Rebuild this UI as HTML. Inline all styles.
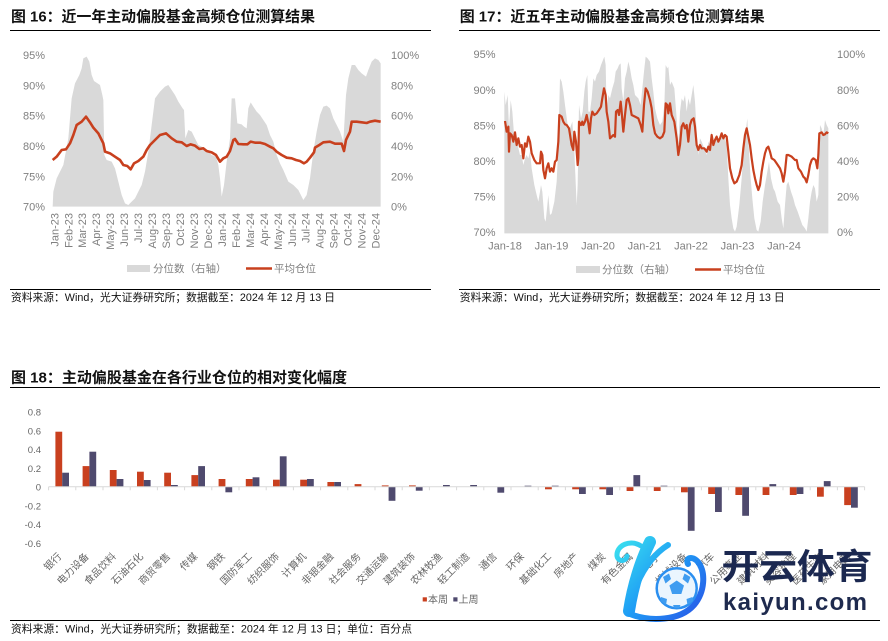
<!DOCTYPE html>
<html><head><meta charset="utf-8">
<style>
html,body{margin:0;padding:0;background:#fff;}
body{width:888px;height:641px;overflow:hidden;}
svg{display:block;font-family:"Liberation Sans","Noto Sans CJK SC",sans-serif;}
.t{font-size:15px;font-weight:bold;fill:#111;}
.src{font-size:10.8px;fill:#111;}
.ax{font-size:11px;fill:#808080;}
.lg{font-size:10.5px;fill:#808080;}
.by{font-size:9.5px;fill:#666;}
.bx{font-size:10px;fill:#666;}
</style></head>
<body>
<svg width="888" height="641" viewBox="0 0 888 641" xmlns="http://www.w3.org/2000/svg">
<defs>
<linearGradient id="wg" gradientUnits="userSpaceOnUse" x1="610" y1="540" x2="705" y2="622">
<stop offset="0" stop-color="#3ee8ee"/><stop offset="0.5" stop-color="#1e9cf5"/><stop offset="1" stop-color="#2a4fe6"/>
</linearGradient>
</defs>
<rect width="888" height="641" fill="#fff"/>

<!-- ============ Chart 16 ============ -->
<text class="t" x="11" y="21.5" textLength="304" lengthAdjust="spacingAndGlyphs">图 16：近一年主动偏股基金高频仓位测算结果</text>
<line x1="10" y1="30.5" x2="431" y2="30.5" stroke="#000" stroke-width="1"/>
<g transform="translate(40,45) scale(0.33333)">
<path fill="#d9d9d9" d="M38,485 L40,440 L50,400 L70,360 L85,280 L95,160 L105,115 L118,90 L125,70 L130,40 L140,35 L148,50 L155,90 L162,108 L180,120 L187,150 L190,165 L193,330 L200,345 L215,350 L225,370 L235,410 L245,450 L255,475 L265,480 L275,470 L285,460 L295,440 L305,420 L315,380 L325,320 L335,240 L345,160 L360,140 L375,125 L385,120 L395,135 L405,150 L415,170 L428,190 L432,195 L436,280 L445,255 L455,260 L465,280 L475,300 L485,305 L495,315 L505,320 L515,330 L528,335 L535,360 L540,400 L545,455 L552,420 L560,350 L570,280 L575,160 L585,160 L592,235 L605,238 L612,245 L620,250 L625,190 L632,172 L640,185 L650,200 L660,210 L670,225 L680,240 L690,270 L700,290 L710,330 L720,355 L730,375 L745,410 L760,420 L775,435 L790,465 L800,450 L810,400 L820,320 L830,260 L840,210 L850,185 L860,182 L870,190 L880,220 L890,240 L900,260 L910,290 L918,150 L925,100 L935,60 L945,60 L955,75 L965,85 L978,95 L985,75 L995,50 L1005,40 L1015,45 L1022,55 L1022,485 Z"/>
<path fill="none" stroke="#c8401e" stroke-width="2.6" vector-effect="non-scaling-stroke" stroke-linejoin="round" d="M38,345 L50,335 L65,315 L78,313 L90,295 L100,270 L110,240 L125,230 L138,215 L150,232 L160,248 L175,265 L185,285 L190,295 L195,320 L210,325 L225,335 L240,345 L250,360 L262,363 L272,373 L282,355 L295,348 L310,335 L320,315 L330,300 L345,285 L360,270 L378,265 L395,280 L410,290 L425,292 L440,303 L452,298 L465,302 L478,312 L490,310 L500,318 L515,322 L528,330 L540,350 L550,340 L560,335 L570,318 L580,285 L585,282 L595,297 L610,298 L622,298 L632,290 L645,293 L660,293 L675,297 L690,305 L700,310 L710,320 L725,330 L740,338 L755,340 L768,345 L780,348 L792,355 L800,350 L810,338 L822,322 L825,308 L838,300 L850,292 L870,290 L885,296 L905,296 L912,318 L918,285 L930,260 L935,230 L950,230 L965,232 L980,234 L990,230 L1005,227 L1022,230"/>
</g>
<g class="ax" text-anchor="end">
<text x="45" y="59">95%</text><text x="45" y="89.3">90%</text><text x="45" y="119.7">85%</text><text x="45" y="150">80%</text><text x="45" y="180.4">75%</text><text x="45" y="210.7">70%</text>
</g>
<g class="ax">
<text x="391" y="59">100%</text><text x="391" y="89.3">80%</text><text x="391" y="119.7">60%</text><text x="391" y="150">40%</text><text x="391" y="180.4">20%</text><text x="391" y="210.7">0%</text>
</g>
<g class="ax" text-anchor="end">
<text transform="translate(58.3,213) rotate(-90)">Jan-23</text>
<text transform="translate(72.3,213) rotate(-90)">Feb-23</text>
<text transform="translate(86.2,213) rotate(-90)">Mar-23</text>
<text transform="translate(100.2,213) rotate(-90)">Apr-23</text>
<text transform="translate(114.2,213) rotate(-90)">May-23</text>
<text transform="translate(128.2,213) rotate(-90)">Jun-23</text>
<text transform="translate(142.1,213) rotate(-90)">Jul-23</text>
<text transform="translate(156.1,213) rotate(-90)">Aug-23</text>
<text transform="translate(170.1,213) rotate(-90)">Sep-23</text>
<text transform="translate(184.0,213) rotate(-90)">Oct-23</text>
<text transform="translate(198.0,213) rotate(-90)">Nov-23</text>
<text transform="translate(212.0,213) rotate(-90)">Dec-23</text>
<text transform="translate(225.9,213) rotate(-90)">Jan-24</text>
<text transform="translate(239.9,213) rotate(-90)">Feb-24</text>
<text transform="translate(253.9,213) rotate(-90)">Mar-24</text>
<text transform="translate(267.8,213) rotate(-90)">Apr-24</text>
<text transform="translate(281.8,213) rotate(-90)">May-24</text>
<text transform="translate(295.8,213) rotate(-90)">Jun-24</text>
<text transform="translate(309.7,213) rotate(-90)">Jul-24</text>
<text transform="translate(323.7,213) rotate(-90)">Aug-24</text>
<text transform="translate(337.7,213) rotate(-90)">Sep-24</text>
<text transform="translate(351.6,213) rotate(-90)">Oct-24</text>
<text transform="translate(365.6,213) rotate(-90)">Nov-24</text>
<text transform="translate(379.6,213) rotate(-90)">Dec-24</text>
</g>
<rect x="127" y="265" width="23" height="7" fill="#d9d9d9"/>
<text class="lg" x="153" y="272">分位数（右轴）</text>
<line x1="246" y1="268.5" x2="272" y2="268.5" stroke="#c8401e" stroke-width="2.5"/>
<text class="lg" x="274" y="272">平均仓位</text>
<line x1="10" y1="289.5" x2="431" y2="289.5" stroke="#000" stroke-width="1"/>
<text class="src" x="11" y="301" textLength="324" lengthAdjust="spacingAndGlyphs">资料来源：Wind，光大证券研究所；数据截至：2024 年 12 月 13 日</text>

<!-- ============ Chart 17 ============ -->
<text class="t" x="459.7" y="21.5" textLength="305" lengthAdjust="spacingAndGlyphs">图 17：近五年主动偏股基金高频仓位测算结果</text>
<line x1="459" y1="30.5" x2="880" y2="30.5" stroke="#000" stroke-width="1"/>
<g transform="translate(495,45) scale(0.33333)">
<path fill="#d9d9d9" d="M28,565 L28,140 L32,180 L38,150 L42,250 L47,165 L52,200 L58,280 L62,270 L68,300 L75,330 L80,330 L85,360 L90,340 L95,330 L100,340 L105,320 L110,370 L118,420 L125,450 L130,470 L135,440 L138,420 L142,440 L148,520 L152,530 L156,490 L160,450 L165,510 L170,505 L178,470 L185,410 L190,300 L195,100 L200,110 L205,140 L210,180 L218,240 L225,250 L232,230 L238,320 L245,480 L248,420 L252,180 L258,220 L263,200 L268,140 L272,110 L277,90 L280,200 L285,200 L290,160 L295,100 L300,110 L305,90 L312,80 L318,60 L322,50 L328,35 L332,60 L335,200 L340,150 L345,160 L352,130 L358,110 L362,80 L368,70 L372,60 L377,55 L380,130 L385,170 L390,100 L395,80 L400,50 L405,70 L410,100 L415,120 L420,150 L430,160 L437,180 L442,130 L447,80 L452,35 L458,40 L465,50 L470,100 L475,140 L480,190 L487,220 L495,240 L502,230 L508,180 L512,60 L517,70 L520,65 L525,120 L530,110 L538,130 L545,220 L550,300 L555,200 L560,160 L565,170 L570,150 L575,200 L580,160 L585,180 L590,150 L595,120 L600,170 L605,260 L610,330 L615,280 L620,290 L628,310 L635,330 L640,290 L645,300 L650,260 L655,300 L660,280 L665,270 L670,280 L675,280 L680,270 L685,280 L690,280 L695,300 L700,400 L705,480 L710,520 L715,550 L720,560 L725,545 L733,480 L740,400 L745,330 L752,260 L757,220 L762,320 L767,400 L772,460 L778,520 L785,555 L790,560 L797,530 L803,470 L810,420 L817,380 L822,350 L828,400 L835,430 L840,440 L848,470 L855,480 L860,520 L865,550 L870,480 L875,420 L880,410 L888,440 L895,460 L900,480 L908,500 L915,520 L922,540 L930,550 L935,560 L940,520 L945,470 L950,440 L955,420 L960,430 L965,470 L970,450 L975,240 L980,250 L985,270 L990,225 L995,240 L1000,250 L1000,565 Z"/>
<path fill="none" stroke="#c8401e" stroke-width="2.2" vector-effect="non-scaling-stroke" stroke-linejoin="round" d="M30,228 L35,260 L40,245 L42,320 L45,265 L50,270 L55,290 L60,262 L65,300 L70,280 L75,305 L80,300 L85,340 L90,295 L95,305 L100,275 L105,290 L110,325 L118,345 L125,355 L135,355 L138,320 L142,330 L145,375 L150,400 L155,370 L160,355 L165,380 L170,370 L175,380 L180,350 L185,345 L190,290 L193,210 L200,215 L205,230 L210,238 L215,240 L222,250 L230,300 L235,315 L238,260 L243,290 L248,360 L250,340 L252,230 L258,240 L262,230 L265,240 L270,230 L275,210 L280,235 L284,265 L288,220 L292,200 L298,210 L305,205 L312,195 L318,185 L322,160 L327,130 L332,150 L335,200 L340,230 L345,280 L350,275 L355,270 L360,275 L363,200 L368,195 L372,210 L377,170 L380,200 L385,260 L390,210 L395,165 L400,160 L405,180 L410,210 L420,215 L430,220 L437,240 L442,260 L447,180 L452,130 L458,140 L465,165 L470,190 L475,240 L480,265 L487,275 L495,280 L502,275 L508,260 L512,175 L517,180 L520,205 L525,175 L530,210 L538,230 L545,280 L550,330 L555,300 L560,245 L565,235 L570,250 L575,240 L580,290 L585,240 L590,225 L596,220 L600,245 L605,300 L610,315 L615,300 L620,310 L628,310 L635,320 L640,305 L645,315 L650,270 L655,300 L660,285 L665,275 L670,290 L675,280 L680,265 L685,280 L690,270 L695,275 L700,320 L705,370 L712,400 L718,415 L725,410 L733,390 L740,360 L745,310 L750,270 L755,250 L760,275 L765,300 L770,340 L775,375 L780,400 L785,420 L790,435 L795,420 L800,380 L805,350 L810,325 L815,310 L820,305 L825,320 L830,340 L838,345 L845,355 L855,370 L860,385 L865,410 L870,380 L875,330 L880,330 L890,335 L900,345 L905,345 L910,370 L918,380 L925,395 L930,400 L935,412 L940,390 L945,360 L950,345 L955,340 L962,345 L967,370 L970,330 L973,265 L980,262 L985,270 L990,268 L995,262 L1000,265"/>
</g>
<g class="ax" text-anchor="end">
<text x="495.5" y="58.2">95%</text><text x="495.5" y="93.8">90%</text><text x="495.5" y="129.4">85%</text><text x="495.5" y="165">80%</text><text x="495.5" y="200.6">75%</text><text x="495.5" y="236.2">70%</text>
</g>
<g class="ax">
<text x="837" y="58.2">100%</text><text x="837" y="93.8">80%</text><text x="837" y="129.4">60%</text><text x="837" y="165">40%</text><text x="837" y="200.6">20%</text><text x="837" y="236.2">0%</text>
</g>
<g class="ax" text-anchor="middle">
<text x="505" y="249.5">Jan-18</text><text x="551.5" y="249.5">Jan-19</text><text x="598" y="249.5">Jan-20</text><text x="644.5" y="249.5">Jan-21</text><text x="691" y="249.5">Jan-22</text><text x="737.5" y="249.5">Jan-23</text><text x="784" y="249.5">Jan-24</text>
</g>
<rect x="576" y="266" width="24" height="7" fill="#d9d9d9"/>
<text class="lg" x="602" y="273">分位数（右轴）</text>
<line x1="695" y1="269.5" x2="721" y2="269.5" stroke="#c8401e" stroke-width="2.5"/>
<text class="lg" x="723" y="273">平均仓位</text>
<line x1="459" y1="289.5" x2="880" y2="289.5" stroke="#000" stroke-width="1"/>
<text class="src" x="459.7" y="301" textLength="325" lengthAdjust="spacingAndGlyphs">资料来源：Wind，光大证券研究所；数据截至：2024 年 12 月 13 日</text>

<!-- ============ Chart 18 ============ -->
<text class="t" x="11" y="382.5" textLength="336" lengthAdjust="spacingAndGlyphs">图 18：主动偏股基金在各行业仓位的相对变化幅度</text>
<line x1="10" y1="387.5" x2="880" y2="387.5" stroke="#000" stroke-width="1"/>
<g class="by" text-anchor="end">
<text x="41" y="415.5">0.8</text><text x="41" y="434.3">0.6</text><text x="41" y="453">0.4</text><text x="41" y="471.8">0.2</text><text x="41" y="490.5">0</text><text x="41" y="509.3">-0.2</text><text x="41" y="528">-0.4</text><text x="41" y="546.8">-0.6</text>
</g>
<g fill="#c9401f">
<rect x="55.4" y="431.7" width="6.8" height="55"/>
<rect x="82.6" y="466.1" width="6.8" height="20.6"/>
<rect x="109.8" y="470" width="6.8" height="16.7"/>
<rect x="137" y="471.7" width="6.8" height="15"/>
<rect x="164.2" y="472.7" width="6.8" height="14"/>
<rect x="191.4" y="475.1" width="6.8" height="11.6"/>
<rect x="218.6" y="479" width="6.8" height="7.7"/>
<rect x="245.8" y="479" width="6.8" height="7.7"/>
<rect x="273" y="479.7" width="6.8" height="7"/>
<rect x="300.2" y="479.7" width="6.8" height="7"/>
<rect x="327.4" y="482" width="6.8" height="4.7"/>
<rect x="354.6" y="484.1" width="6.8" height="2.6"/>
<rect x="381.8" y="485.4" width="6.8" height="1.3"/>
<rect x="409" y="485.4" width="6.8" height="1.3"/>
<rect x="545" y="486.7" width="6.8" height="2.6"/>
<rect x="572.2" y="486.7" width="6.8" height="2.6"/>
<rect x="599.4" y="486.7" width="6.8" height="2.6"/>
<rect x="626.6" y="486.7" width="6.8" height="4.3"/>
<rect x="653.8" y="486.7" width="6.8" height="4.3"/>
<rect x="681" y="486.7" width="6.8" height="5.6"/>
<rect x="708.2" y="486.7" width="6.8" height="7.3"/>
<rect x="735.4" y="486.7" width="6.8" height="8.3"/>
<rect x="762.6" y="486.7" width="6.8" height="8.3"/>
<rect x="789.8" y="486.7" width="6.8" height="8.3"/>
<rect x="817" y="486.7" width="6.8" height="10"/>
<rect x="844.2" y="486.7" width="6.8" height="18.4"/>
</g>
<g fill="#4f4a6e">
<rect x="62.2" y="472.7" width="6.8" height="14"/>
<rect x="89.4" y="451.7" width="6.8" height="35"/>
<rect x="116.6" y="479" width="6.8" height="7.7"/>
<rect x="143.8" y="480" width="6.8" height="6.7"/>
<rect x="171" y="485" width="6.8" height="1.7"/>
<rect x="198.2" y="466.1" width="6.8" height="20.6"/>
<rect x="225.4" y="486.7" width="6.8" height="5.6"/>
<rect x="252.6" y="477.3" width="6.8" height="9.4"/>
<rect x="279.8" y="456.3" width="6.8" height="30.4"/>
<rect x="307" y="479" width="6.8" height="7.7"/>
<rect x="334.2" y="482" width="6.8" height="4.7"/>
<rect x="388.6" y="486.7" width="6.8" height="14.1"/>
<rect x="415.8" y="486.7" width="6.8" height="4"/>
<rect x="443" y="485" width="6.8" height="1.7"/>
<rect x="470.2" y="485" width="6.8" height="1.7"/>
<rect x="497.4" y="486.7" width="6.8" height="6"/>
<rect x="524.6" y="485.7" width="6.8" height="1"/>
<rect x="551.8" y="485.7" width="6.8" height="1"/>
<rect x="579" y="486.7" width="6.8" height="7.3"/>
<rect x="606.2" y="486.7" width="6.8" height="8.3"/>
<rect x="633.4" y="475.1" width="6.8" height="11.6"/>
<rect x="660.6" y="485.7" width="6.8" height="1"/>
<rect x="687.8" y="486.7" width="6.8" height="44.1"/>
<rect x="715" y="486.7" width="6.8" height="25.3"/>
<rect x="742.2" y="486.7" width="6.8" height="29.1"/>
<rect x="769.4" y="484.1" width="6.8" height="2.6"/>
<rect x="796.6" y="486.7" width="6.8" height="7.3"/>
<rect x="823.8" y="481.1" width="6.8" height="5.6"/>
<rect x="851" y="486.7" width="6.8" height="21"/>
</g>
<line x1="48.6" y1="486.7" x2="864.6" y2="486.7" stroke="#d9d9d9" stroke-width="1"/>
<path stroke="#d9d9d9" stroke-width="1" d="M48.6,486.7v3.5M75.8,486.7v3.5M103,486.7v3.5M130.2,486.7v3.5M157.4,486.7v3.5M184.6,486.7v3.5M211.8,486.7v3.5M239,486.7v3.5M266.2,486.7v3.5M293.4,486.7v3.5M320.6,486.7v3.5M347.8,486.7v3.5M375,486.7v3.5M402.2,486.7v3.5M429.4,486.7v3.5M456.6,486.7v3.5M483.8,486.7v3.5M511,486.7v3.5M538.2,486.7v3.5M565.4,486.7v3.5M592.6,486.7v3.5M619.8,486.7v3.5M647,486.7v3.5M674.2,486.7v3.5M701.4,486.7v3.5M728.6,486.7v3.5M755.8,486.7v3.5M783,486.7v3.5M810.2,486.7v3.5M837.4,486.7v3.5M864.6,486.7v3.5"/>
<g class="bx" text-anchor="end">
<text transform="translate(62.2,557) rotate(-45)">银行</text>
<text transform="translate(89.4,557) rotate(-45)">电力设备</text>
<text transform="translate(116.6,557) rotate(-45)">食品饮料</text>
<text transform="translate(143.8,557) rotate(-45)">石油石化</text>
<text transform="translate(171,557) rotate(-45)">商贸零售</text>
<text transform="translate(198.2,557) rotate(-45)">传媒</text>
<text transform="translate(225.4,557) rotate(-45)">钢铁</text>
<text transform="translate(252.6,557) rotate(-45)">国防军工</text>
<text transform="translate(279.8,557) rotate(-45)">纺织服饰</text>
<text transform="translate(307,557) rotate(-45)">计算机</text>
<text transform="translate(334.2,557) rotate(-45)">非银金融</text>
<text transform="translate(361.4,557) rotate(-45)">社会服务</text>
<text transform="translate(388.6,557) rotate(-45)">交通运输</text>
<text transform="translate(415.8,557) rotate(-45)">建筑装饰</text>
<text transform="translate(443,557) rotate(-45)">农林牧渔</text>
<text transform="translate(470.2,557) rotate(-45)">轻工制造</text>
<text transform="translate(497.4,557) rotate(-45)">通信</text>
<text transform="translate(524.6,557) rotate(-45)">环保</text>
<text transform="translate(551.8,557) rotate(-45)">基础化工</text>
<text transform="translate(579,557) rotate(-45)">房地产</text>
<text transform="translate(606.2,557) rotate(-45)">煤炭</text>
<text transform="translate(633.4,557) rotate(-45)">有色金属</text>
<text transform="translate(660.6,557) rotate(-45)">电子</text>
<text transform="translate(687.8,557) rotate(-45)">机械设备</text>
<text transform="translate(715,557) rotate(-45)">汽车</text>
<text transform="translate(742.2,557) rotate(-45)">公用事业</text>
<text transform="translate(769.4,557) rotate(-45)">建筑材料</text>
<text transform="translate(796.6,557) rotate(-45)">美容护理</text>
<text transform="translate(823.8,557) rotate(-45)">医药生物</text>
<text transform="translate(851,557) rotate(-45)">家用电器</text>
</g>
<rect x="422.7" y="597.3" width="4.2" height="4.2" fill="#c9401f"/>
<text class="bx" x="428" y="603">本周</text>
<rect x="453.3" y="597.3" width="4.2" height="4.2" fill="#4f4a6e"/>
<text class="bx" x="458.5" y="603">上周</text>

<!-- watermark -->
<g fill="none" stroke="url(#wg)" stroke-linecap="round" stroke-linejoin="round">
<path d="M650,542 C641,560 633,585 629,611" stroke-width="12"/>
<path d="M641,546 C631,539 616,545 617,556 C618,562 626,562 627,556" stroke-width="5"/>
<path d="M630,614 C650,622 680,621 694,605 C705,592 706,572 698,562 C692,555 685,558 688,564" stroke-width="6"/>
<path d="M637,584 C645,566 655,553 668,545" stroke-width="6"/>
</g>
<circle cx="676.7" cy="588.3" r="20" fill="#eaf5fe" stroke="#2b8ff0" stroke-width="2.5"/>
<path d="M676.7,580.5 L684,585.5 L681.3,594 L672.1,594 L669.4,585.5 Z" fill="#3f9cf0"/>
<path d="M663,577 L669,573.5 L671,579 L665.5,583.5 Z M690.5,577 L684.5,573.5 L682.5,579 L688,583.5 Z M661,597 L667,599 L666,605 L660.5,601 Z M692.5,597 L686.5,599 L687.5,605 L693,601 Z M673,605 L680.5,605 L679,608 L674.5,608 Z" fill="#3f9cf0"/>
<text x="721.5" y="579" font-size="35" font-weight="bold" fill="#1b2850" textLength="151" lengthAdjust="spacingAndGlyphs">开云体育</text>
<text x="723" y="610" font-size="24" font-weight="bold" fill="#1e2a4e" textLength="144" lengthAdjust="spacing">kaiyun.com</text>

<line x1="10" y1="620.5" x2="880" y2="620.5" stroke="#000" stroke-width="1"/>
<text class="src" x="11" y="632.5" textLength="401" lengthAdjust="spacingAndGlyphs">资料来源：Wind，光大证券研究所；数据截至：2024 年 12 月 13 日；单位：百分点</text>
</svg>
</body></html>
